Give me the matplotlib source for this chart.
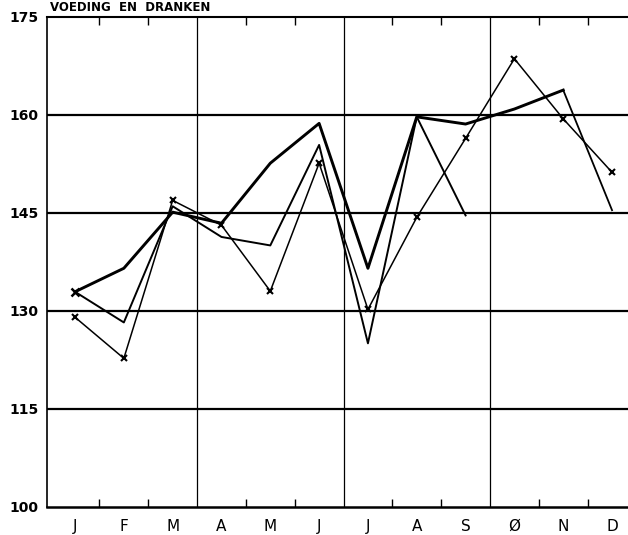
import matplotlib.pyplot as plt

# month labels (Dutch, Ø = oktober)
months = ['J', 'F', 'M', 'A', 'M', 'J', 'J', 'A', 'S', 'Ø', 'N', 'D']

# series
vorig_jaar = [132.9, 136.5, 145.1, 143.4, 152.6, 158.7, 136.5, 159.7, 158.6, 160.9, 163.8, 145.4]
met_kruisjes = [129.0, 122.7, 146.9, 143.1, 133.0, 152.6, 130.2, 144.3, 156.4, 168.6, 159.4, 151.2]
dit_jaar = [132.9, 128.2, 146.0, 141.3, 140.0, 155.4, 125.0, 159.7, 144.6]

y_ticks = [100, 115, 130, 145, 160, 175]

fig = plt.figure(figsize=(6.28, 5.35), dpi=100)
ax = fig.add_axes([47 / 628, (535 - 506.5) / 535, (628 - 47) / 628, (506.5 - 17) / 535])

x_all = list(range(len(months)))

# horizontal rules
for v in y_ticks[1:-1]:
    ax.axhline(v, color='black', linewidth=1.6, zorder=1)
# quarter separators
for q in [2.5, 5.5, 8.5]:
    ax.axvline(q, color='black', linewidth=0.9, zorder=1)

ax.plot(x_all[:11], vorig_jaar[:11], color='black', linewidth=2.1, marker='x',
        markevery=[0], markersize=6, markeredgewidth=1.8, zorder=3)
ax.plot(x_all[10:], vorig_jaar[10:], color='black', linewidth=1.3, zorder=3)
ax.plot(x_all, met_kruisjes, color='black', linewidth=1.1, marker='x',
        markersize=5, markeredgewidth=1.5, zorder=3)
ax.plot(x_all[:len(dit_jaar)], dit_jaar, color='black', linewidth=1.4, zorder=3)

ax.set_xlim(-0.574, 11.327)
ax.set_ylim(100, 175)

ax.set_xticks(x_all)
ax.set_xticklabels(months, fontsize=11)
ax.set_xticks([i + 0.5 for i in range(11) if i + 0.5 not in (2.5, 5.5, 8.5)], minor=True)
ax.tick_params(axis='x', which='major', length=0, pad=9)
ax.tick_params(axis='x', which='minor', direction='in', length=6, width=1.0, top=True, bottom=True)

ax.set_yticks(y_ticks)
ax.set_yticklabels([str(v) for v in y_ticks], fontsize=10, fontweight='bold')
ax.tick_params(axis='y', length=0, pad=6)

ax.spines['right'].set_visible(False)
ax.spines['top'].set_linewidth(1.5)
ax.spines['bottom'].set_linewidth(1.8)
ax.spines['left'].set_linewidth(1.2)

fig.text(50 / 628, 1 - 11 / 535, 'VOEDING  EN  DRANKEN', fontsize=8.5,
         fontweight='bold', va='baseline', ha='left')

fig.savefig('out.png', dpi=100)
